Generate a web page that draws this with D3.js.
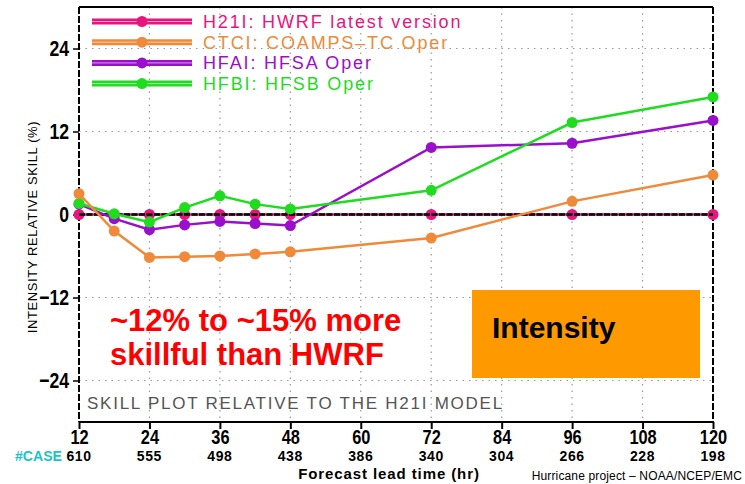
<!DOCTYPE html>
<html>
<head>
<meta charset="utf-8">
<script src="https://cdn.jsdelivr.net/npm/d3@7"></script>
<style>
  body { margin: 0; background: #fff; }
  svg text { font-family: "Liberation Sans", Arial, sans-serif; }
</style>
</head>
<body>
<div id="chart"></div>
<script>
// chart values
const hours = [12, 18, 24, 30, 36, 42, 48, 72, 96, 120]
const h21i = [0, 0, 0, 0, 0, 0, 0, 0, 0, 0]
const ctci = [3.0, -2.4, -6.2, -6.1, -6.0, -5.7, -5.4, -3.4, 1.9, 5.7]
const hfai = [1.5, -0.6, -2.2, -1.5, -1.0, -1.3, -1.6, 9.7, 10.3, 13.6]
const hfbi = [1.6, 0.1, -1.1, 1.0, 2.7, 1.5, 0.8, 3.5, 13.3, 17.0]
const xTicks = [12, 24, 36, 48, 60, 72, 84, 96, 108, 120]
const caseCounts = [610, 555, 498, 438, 386, 340, 304, 266, 228, 198]
const yTicks = [24, 12, 0, -12, -24]
const legendNames = ['H21I: HWRF latest version', 'CTCI: COAMPS\u2013TC Oper', 'HFAI: HFSA Oper', 'HFBI: HFSB Oper']

const width = 745,
height = 484

const series = [
  { name: legendNames[0], values: h21i, color: '#e8157f' },
  { name: legendNames[1], values: ctci, color: '#ef8a3a' },
  { name: legendNames[2], values: hfai, color: '#9a0fcc' },
  { name: legendNames[3], values: hfbi, color: '#1fdc1f' }
]

let svg = d3.select('#chart')
  .append('svg')
  .attr('width', width)
  .attr('height', height)

const x = d3.scaleLinear().domain([12, 120]).range([79, 713])
const y = d3.scaleLinear().domain([-30, 30]).range([422, 7])

// dotted grid
svg.append('g')
  .selectAll('line')
  .data(xTicks.slice(1, -1))
  .enter()
  .append('line')
  .attr('x1', d => x(d)).attr('x2', d => x(d))
  .attr('y1', y(30)).attr('y2', y(-30))
  .attr('stroke', '#999').attr('stroke-width', 1.2)
  .attr('stroke-dasharray', '1.5,5')

svg.append('g')
  .selectAll('line')
  .data(yTicks.filter(d => d !== 0))
  .enter()
  .append('line')
  .attr('x1', x(12)).attr('x2', x(120))
  .attr('y1', d => y(d)).attr('y2', d => y(d))
  .attr('stroke', '#999').attr('stroke-width', 1.2)
  .attr('stroke-dasharray', '1.5,5')

// frame
svg.append('line').attr('x1', x(12)).attr('x2', x(120)).attr('y1', y(30)).attr('y2', y(30))
  .attr('stroke', '#000').attr('stroke-width', 2)
svg.append('line').attr('x1', x(12)).attr('x2', x(120)).attr('y1', y(-30)).attr('y2', y(-30))
  .attr('stroke', '#000').attr('stroke-width', 2)
svg.append('line').attr('x1', x(12)).attr('x2', x(12)).attr('y1', y(30)).attr('y2', y(-30))
  .attr('stroke', '#000').attr('stroke-width', 2).attr('stroke-dasharray', '7,2')
svg.append('line').attr('x1', x(120)).attr('x2', x(120)).attr('y1', y(30)).attr('y2', y(-30))
  .attr('stroke', '#000').attr('stroke-width', 2).attr('stroke-dasharray', '7,2')

// y axis
const yAxis = d3.axisLeft(y).tickValues(yTicks).tickSize(6)
  .tickFormat(d => d < 0 ? '\u2212' + Math.abs(d) : d)
const gy = svg.append('g').attr('transform', `translate(${x(12)},0)`).call(yAxis)
gy.select('.domain').remove()
gy.selectAll('line').attr('stroke', '#000').attr('stroke-width', 1.5)
gy.selectAll('text')
  .attr('font-size', 22).attr('font-weight', 'bold').attr('fill', '#000')
  .attr('transform', 'scale(0.8,1)').attr('x', -10 / 0.8)

svg.append('text')
  .attr('transform', 'translate(37,227) rotate(-90)')
  .attr('text-anchor', 'middle')
  .attr('font-size', 13)
  .attr('letter-spacing', 0.6)
  .text('INTENSITY RELATIVE SKILL (%)')

// x axis
const xAxis = d3.axisBottom(x).tickValues(xTicks).tickSize(7)
const gx = svg.append('g').attr('transform', `translate(0,${y(-30)})`).call(xAxis)
gx.select('.domain').remove()
gx.selectAll('line').attr('stroke', '#000').attr('stroke-width', 2)
gx.selectAll('text')
  .attr('font-size', 20).attr('font-weight', 'bold').attr('fill', '#000')
  .attr('dy', null).attr('y', 22)
  .attr('transform', 'scale(0.82,1)')

svg.append('g')
  .selectAll('text')
  .data(caseCounts)
  .enter()
  .append('text')
  .attr('x', (d, i) => x(xTicks[i]))
  .attr('y', 461)
  .attr('text-anchor', 'middle')
  .attr('font-size', 14)
  .attr('font-weight', 'bold')
  .attr('letter-spacing', 0.6)
  .text(d => d)

svg.append('text').attr('x', 15).attr('y', 461)
  .attr('font-size', 14).attr('font-weight', 'bold').attr('fill', '#1cc4c8')
  .attr('textLength', 47).attr('lengthAdjust', 'spacingAndGlyphs')
  .text('#CASE')

svg.append('text').attr('x', 389).attr('y', 479)
  .attr('text-anchor', 'middle').attr('font-size', 15).attr('font-weight', 'bold')
  .attr('letter-spacing', 0.9)
  .text('Forecast lead time (hr)')

svg.append('text').attr('x', 742).attr('y', 480)
  .attr('text-anchor', 'end').attr('font-size', 12)
  .attr('letter-spacing', 0.15)
  .text('Hurricane project \u2013 NOAA/NCEP/EMC')

svg.append('text').attr('x', 87).attr('y', 409)
  .attr('font-size', 17).attr('fill', '#555').attr('letter-spacing', 1.75)
  .text('SKILL PLOT RELATIVE TO THE H21I MODEL')

// series
const line = d3.line().x((d, i) => x(hours[i])).y(d => y(d))

let drawSeries = (s) => {
  let g = svg.append('g')
  g.append('path')
    .datum(s.values)
    .attr('d', line)
    .attr('fill', 'none')
    .attr('stroke', s.color)
    .attr('stroke-width', 2.5)
  g.selectAll('circle')
    .data(s.values)
    .enter()
    .append('circle')
    .attr('cx', (d, i) => x(hours[i]))
    .attr('cy', d => y(d))
    .attr('r', 5.5)
    .attr('fill', s.color)
}

drawSeries(series[0])

// zero line
svg.append('line').attr('x1', x(12)).attr('x2', x(120)).attr('y1', y(0)).attr('y2', y(0))
  .attr('stroke', '#000').attr('stroke-width', 2.5).attr('stroke-dasharray', '6,1.5')

drawSeries(series[2])
drawSeries(series[3])
drawSeries(series[1])

// legend
const legend = svg.append('g')
  .selectAll('g')
  .data(series)
  .enter()
  .append('g')
  .attr('transform', (d, i) => `translate(0,${21.5 + i * 20.7})`)

legend.append('line').attr('x1', 92).attr('x2', 192)
  .attr('stroke', d => d.color).attr('stroke-width', 6)
legend.append('line').attr('x1', 92).attr('x2', 192)
  .attr('stroke', '#fff').attr('stroke-opacity', 0.6).attr('stroke-width', 1)
legend.append('circle').attr('cx', 142).attr('r', 5.5).attr('fill', d => d.color)
legend.append('text').attr('x', 203).attr('y', 6.5)
  .attr('font-size', 18).attr('letter-spacing', 1.85)
  .attr('fill', d => d.color)
  .text(d => d.name)

// annotations
svg.append('rect').attr('x', 472).attr('y', 290).attr('width', 228).attr('height', 88)
  .attr('fill', '#ff9900')
svg.append('text').attr('x', 492).attr('y', 338)
  .attr('font-size', 30).attr('font-weight', 'bold')
  .text('Intensity')

svg.append('text').attr('x', 110).attr('y', 331)
  .attr('font-size', 31).attr('font-weight', 'bold').attr('fill', '#ff0000')
  .text('~12% to ~15% more')
svg.append('text').attr('x', 110).attr('y', 365)
  .attr('font-size', 31).attr('font-weight', 'bold').attr('fill', '#ff0000')
  .text('skillful than HWRF')
</script>
</body>
</html>
